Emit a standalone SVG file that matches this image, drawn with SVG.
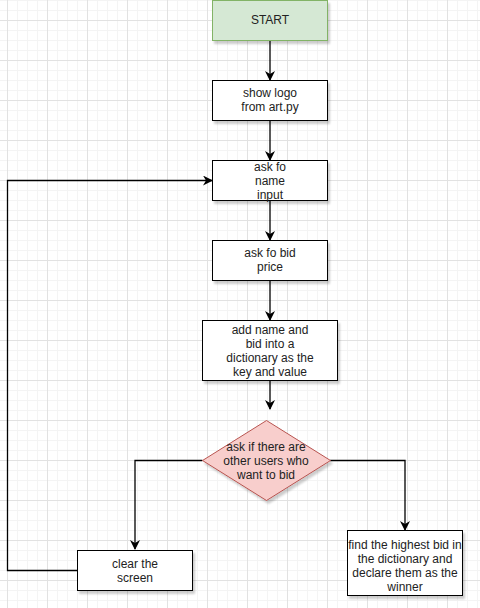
<svg xmlns="http://www.w3.org/2000/svg" width="480" height="608" viewBox="0 0 480 608">
<defs>
<pattern id="minor" x="7" y="0" width="10" height="10" patternUnits="userSpaceOnUse">
<path d="M0.5 0V10M0 0.5H10" stroke="#f4f4f4" stroke-width="1" fill="none"/>
</pattern>
<pattern id="major" x="7" y="20" width="40" height="40" patternUnits="userSpaceOnUse">
<path d="M0.5 0V40M0 0.5H40" stroke="#e2e2e2" stroke-width="1" fill="none"/>
</pattern>
<filter id="sh" x="-10%" y="-10%" width="130%" height="140%">
<feGaussianBlur in="SourceAlpha" stdDeviation="1"/>
<feOffset dx="2" dy="3" result="o"/>
<feComponentTransfer><feFuncA type="linear" slope="0.2"/></feComponentTransfer>
<feMerge><feMergeNode/><feMergeNode in="SourceGraphic"/></feMerge>
</filter>
<marker id="arr" viewBox="0 0 10 10" refX="9" refY="5" markerWidth="10" markerHeight="10" markerUnits="userSpaceOnUse" orient="auto">
<path d="M0,0 L10,5 L0,10 L3,5 Z" fill="#000"/>
</marker>
</defs>
<style>
.box{fill:#fff;stroke:#000;stroke-width:1;filter:url(#sh)}
.t{font-family:"Liberation Sans",Arial,sans-serif;font-size:12px;fill:#222;text-anchor:middle}
.e{fill:none;stroke:#000;stroke-width:1.3;marker-end:url(#arr)}
</style>
<rect width="480" height="608" fill="#fff"/>
<rect width="480" height="608" fill="url(#minor)"/>
<rect width="480" height="608" fill="url(#major)"/>

<g id="edges">
<path class="e" d="M270 40V80"/>
<path class="e" d="M270 120V160"/>
<path class="e" d="M270 200V240"/>
<path class="e" d="M270 280V320"/>
<path class="e" d="M270 380V409"/>
<path class="e" d="M202.5 460.5H135V549"/>
<path class="e" d="M330 460.5H405V530"/>
<path class="e" d="M78 570.5H7.5V180.5H212"/>
</g>

<g id="start">
<rect x="212.5" y="0.5" width="115" height="40" fill="#d5e8d4" stroke="#82b366" stroke-width="1" filter="url(#sh)"/>
<text class="t" x="270" y="24">START</text>
</g>
<g id="showlogo">
<rect class="box" x="212.5" y="80.5" width="115" height="40"/>
<text class="t" x="270" y="97">show logo</text>
<text class="t" x="270" y="111">from art.py</text>
</g>
<g id="askname">
<rect class="box" x="212.5" y="160.5" width="115" height="40"/>
<text class="t" x="270" y="171">ask fo</text>
<text class="t" x="270" y="185">name</text>
<text class="t" x="270" y="199">input</text>
</g>
<g id="askbid">
<rect class="box" x="212.5" y="240.5" width="115" height="40"/>
<text class="t" x="270" y="257">ask fo bid</text>
<text class="t" x="270" y="271">price</text>
</g>
<g id="adddict">
<rect class="box" x="202.5" y="320.5" width="135" height="60"/>
<text class="t" x="270" y="334">add name and</text>
<text class="t" x="270" y="348">bid into a</text>
<text class="t" x="270" y="362">dictionary as the</text>
<text class="t" x="270" y="376">key and value</text>
</g>
<g id="decision">
<path d="M266.5 420.5L330.5 460.5L266.5 500.5L202.5 460.5Z" fill="#f8cecc" stroke="#b85450" stroke-width="1" filter="url(#sh)"/>
<text class="t" x="266" y="451">ask if there are</text>
<text class="t" x="266" y="465">other users who</text>
<text class="t" x="266" y="479">want to bid</text>
</g>
<g id="clear">
<rect class="box" x="77.5" y="550.5" width="115" height="40"/>
<text class="t" x="135" y="568">clear the</text>
<text class="t" x="135" y="582">screen</text>
</g>
<g id="winner">
<rect class="box" x="347.5" y="530.5" width="115" height="65"/>
<text class="t" x="405" y="549">find the highest bid in</text>
<text class="t" x="405" y="563">the dictionary and</text>
<text class="t" x="405" y="577">declare them as the</text>
<text class="t" x="405" y="591">winner</text>
</g>
</svg>
